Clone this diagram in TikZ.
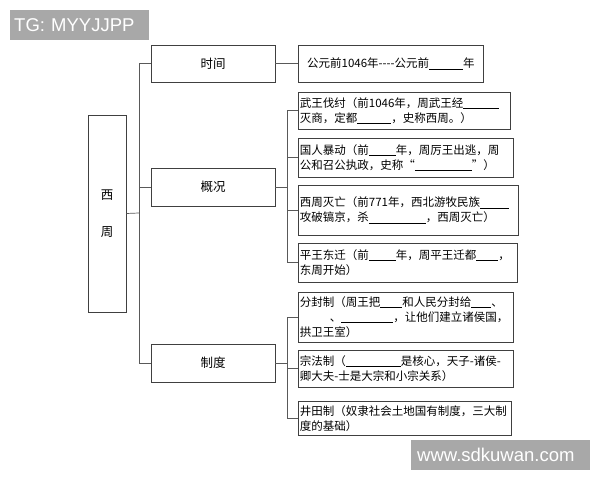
\documentclass[tikz,border=0pt]{standalone}
\usepackage{fontspec}
\usepackage{xcolor}
\newfontfamily\cjk{Noto Sans CJK SC}
\newfontfamily\wmfont{Liberation Sans}
\newcommand\blank[1]{\rule[-1.5bp]{#1bp}{0.5bp}}
\definecolor{wmgray}{HTML}{A8A8A8}

\begin{document}
\begin{tikzpicture}[x=1bp, y=-1bp,
    box/.style={draw=black!75, line width=0.9bp, fill=white, inner sep=0pt, font=\cjk\fontsize{12.5bp}{15bp}\selectfont},
    leaf/.style={draw=black!75, line width=0.9bp, anchor=west, inner xsep=1.5bp, inner ysep=0pt, align=left, font=\cjk\fontsize{11.5bp}{15bp}\selectfont},
    link/.style={black!65, line width=0.7bp},
    wmark/.style={fill=wmgray, text=white, inner xsep=4bp, inner ysep=0pt, minimum height=30bp, align=left, anchor=north west, font=\wmfont\fontsize{18.5bp}{20bp}\selectfont}]
      \useasboundingbox (0,0) rectangle (600,480);
      \node[box, minimum width=38bp, minimum height=197bp, align=center] (xizhou) at (107,213.5) {西\\[22bp]周};
      \node[box, minimum width=124bp, minimum height=37bp] (shijian) at (213,63.5) {时间};
      \node[box, minimum width=124bp, minimum height=38bp] (gaikuang) at (213,187) {概况};
      \node[box, minimum width=124bp, minimum height=38bp] (zhidu) at (213,363) {制度};
      \node[leaf, text width=182bp, minimum height=37bp, align=center] (nian) at (298,63.5) {公元前1046年----公元前\blank{34}年};
      \node[leaf, text width=209bp, minimum height=37bp] (wuwang) at (298,110.5) {武王伐纣（前1046年，周武王经\blank{36}\\灭商，定都\blank{34}，史称西周。）};
      \node[leaf, text width=212bp, minimum height=39bp] (guoren) at (298,157.5) {国人暴动（前\blank{27}年，周厉王出逃，周\\公和召公执政，史称“\blank{57}”）};
      \node[leaf, text width=217bp, minimum height=50bp] (miewang) at (298,210) {西周灭亡（前771年，西北游牧民族\blank{29}\\攻破镐京，杀\blank{57}，西周灭亡）};
      \node[leaf, text width=216bp, minimum height=39bp] (dongqian) at (298,262.5) {平王东迁（前\blank{27}年，周平王迁都\blank{22}，\\东周开始）};
      \node[leaf, text width=212bp, minimum height=50bp] (fenfeng) at (298,317) {分封制（周王把\blank{22}和人民分封给\blank{20}、\\\hspace*{30bp}、\blank{52}，让他们建立诸侯国，\\拱卫王室）};
      \node[leaf, text width=212bp, minimum height=37bp] (zongfa) at (298,368.5) {宗法制（\blank{55}是核心，天子-诸侯-\\卿大夫-士是大宗和小宗关系）};
      \node[leaf, text width=210bp, minimum height=34bp] (jingtian) at (298,418.5) {井田制（奴隶社会土地国有制度，三大制\\度的基础）};
      \coordinate (trunk) at (139,213);
      \coordinate (gtrunk) at (287,187);
      \coordinate (ztrunk) at (287,363);
      \draw[link] (xizhou.east) -- (trunk);
      \foreach \n in {shijian,gaikuang,zhidu} \draw[link] (trunk) |- (\n.west);
      \draw[link] (shijian.east) -- (nian.west);
      \draw[link] (gaikuang.east) -- (gtrunk);
      \foreach \n in {wuwang,guoren,miewang,dongqian} \draw[link] (gtrunk) |- (\n.west);
      \draw[link] (zhidu.east) -- (ztrunk);
      \foreach \n in {fenfeng,zongfa,jingtian} \draw[link] (ztrunk) |- (\n.west);
      \node[wmark, text width=131bp] (tg) at (10,10) {TG: MYYJJPP};
      \node[wmark, text width=167bp, inner xsep=6bp] (site) at (411,440) {www.sdkuwan.com};
    \end{tikzpicture}
\end{document}
